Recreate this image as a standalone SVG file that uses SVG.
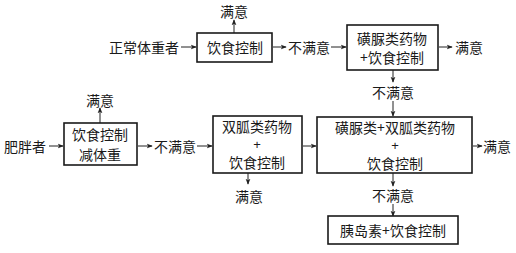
<svg xmlns="http://www.w3.org/2000/svg" width="516" height="253" viewBox="0 0 516 253">
<defs>
<marker id="ah" viewBox="0 0 8 8" refX="7" refY="4" markerWidth="6" markerHeight="6" orient="auto" markerUnits="userSpaceOnUse">
<path d="M0,0.8 L8,4 L0,7.2 L2,4 Z" fill="#222"/>
</marker>
<style>
text{font-family:"Noto Sans CJK SC","Noto Sans CJK JP",sans-serif;font-size:14px;fill:#1a1a1a;text-anchor:middle;dominant-baseline:central}
text.p{font-family:"Liberation Sans",sans-serif;font-size:13px}
.box{fill:#fff;stroke:#1a1a1a;stroke-width:1.6}
.c line{stroke:#222;stroke-width:1}
</style>
</defs>
<rect width="516" height="253" fill="#fff"/>
<g class="c">
<line x1="234" y1="33" x2="234" y2="20" marker-end="url(#ah)"/>
<line x1="181" y1="47" x2="196" y2="47" marker-end="url(#ah)"/>
<line x1="273" y1="47" x2="286" y2="47" marker-end="url(#ah)"/>
<line x1="331" y1="47" x2="346" y2="47" marker-end="url(#ah)"/>
<line x1="439" y1="47" x2="452" y2="47" marker-end="url(#ah)"/>
<line x1="393" y1="70" x2="393" y2="82" marker-end="url(#ah)"/>
<line x1="393" y1="101" x2="393" y2="116" marker-end="url(#ah)"/>
<line x1="100" y1="123" x2="100" y2="108" marker-end="url(#ah)"/>
<line x1="49" y1="146" x2="63" y2="146" marker-end="url(#ah)"/>
<line x1="138" y1="146" x2="152" y2="146" marker-end="url(#ah)"/>
<line x1="197" y1="146" x2="212" y2="146" marker-end="url(#ah)"/>
<line x1="303" y1="146" x2="316" y2="146" marker-end="url(#ah)"/>
<line x1="473" y1="146" x2="482" y2="146" marker-end="url(#ah)"/>
<line x1="248" y1="173" x2="248" y2="184" marker-end="url(#ah)"/>
<line x1="393" y1="173" x2="393" y2="186" marker-end="url(#ah)"/>
<line x1="393" y1="204" x2="393" y2="216" marker-end="url(#ah)"/>
</g>
<g id="t-normal"><text x="144" y="47">正常体重者</text></g>
<g id="t-obese"><text x="25" y="146">肥胖者</text></g>
<g id="s1"><text x="234" y="11">满意</text></g>
<g id="s2"><text x="100" y="100">满意</text></g>
<g id="s3"><text x="469" y="47">满意</text></g>
<g id="s4"><text x="497" y="146">满意</text></g>
<g id="s5"><text x="249" y="196">满意</text></g>
<g id="u1"><text x="309" y="47">不满意</text></g>
<g id="u2"><text x="393" y="92">不满意</text></g>
<g id="u3"><text x="175" y="146">不满意</text></g>
<g id="u4"><text x="393" y="195">不满意</text></g>
<g id="n1"><rect class="box" x="197" y="33" width="75" height="29"/><text x="235" y="47">饮食控制</text></g>
<g id="n2"><rect class="box" x="347" y="25" width="91" height="45"/><text x="392" y="38">磺脲类药物</text><text x="392" y="57">+饮食控制</text></g>
<g id="n3"><rect class="box" x="64" y="123" width="73" height="42"/><text x="100" y="134">饮食控制</text><text x="100" y="154">减体重</text></g>
<g id="n4"><rect class="box" x="213" y="116" width="89" height="57"/><text x="257" y="126">双胍类药物</text><text class="p" x="257" y="144">+</text><text x="257" y="162">饮食控制</text></g>
<g id="n5"><rect class="box" x="317" y="117" width="155" height="56"/><text x="395" y="127">磺脲类+双胍类药物</text><text class="p" x="395" y="145">+</text><text x="395" y="163">饮食控制</text></g>
<g id="n6"><rect class="box" x="328" y="216" width="130" height="28"/><text x="393" y="230">胰岛素+饮食控制</text></g>
</svg>
